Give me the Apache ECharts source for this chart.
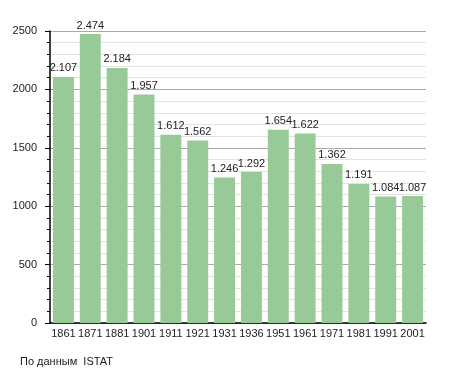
<!DOCTYPE html>
<html><head><meta charset="utf-8">
<script src="https://cdn.jsdelivr.net/npm/echarts@6/dist/echarts.min.js"></script>
<style>html,body{margin:0;padding:0;background:#fff;}#c{width:455px;height:373px;}</style>
</head><body><div id="c"></div>
<script>
const years = ['1861','1871','1881','1901','1911','1921','1931','1936','1951','1961','1971','1981','1991','2001'];
const population = [2107,2474,2184,1957,1612,1562,1246,1292,1654,1622,1362,1191,1084,1087];
const yTicks = [0,500,1000,1500,2000,2500];
const sourceText = 'По данным  ISTAT';

const chart = echarts.init(document.getElementById('c'), null, {renderer:'canvas'});
const fmt = v => { const s = String(v); return s.length > 3 ? s.slice(0, s.length-3) + '.' + s.slice(-3) : s; };
chart.setOption({
  animation:false,
  backgroundColor:'#fff',
  textStyle:{fontFamily:'Liberation Sans, Arial, sans-serif'},
  grid:{left:50,right:29,top:31,bottom:50,containLabel:false},
  graphic:[{type:'text',left:20,top:356,style:{text:sourceText,font:'11px Liberation Sans, Arial, sans-serif',fill:'#222'}}],
  xAxis:{type:'category',data:years,
    axisLine:{lineStyle:{color:'#000',width:1.5}},
    axisTick:{show:false},
    axisLabel:{color:'#222',fontSize:11,margin:5,interval:0}},
  yAxis:{type:'value',min:yTicks[0],max:yTicks[yTicks.length-1],interval:500,
    axisLine:{show:true,lineStyle:{color:'#000',width:1.5}},
    axisTick:{show:true,length:5,lineStyle:{color:'#000'}},
    minorTick:{show:true,splitNumber:5,length:3,lineStyle:{color:'#000'}},
    splitLine:{lineStyle:{color:'#aaa'}},
    minorSplitLine:{show:true,lineStyle:{color:'#e2e2e2'}},
    axisLabel:{color:'#222',fontSize:11,margin:13,formatter:v=>String(v)}},
  series:[{type:'bar',data:population,barCategoryGap:'22%',
    itemStyle:{color:'#98ca98'},
    label:{show:true,position:'top',distance:3,color:'#222',fontSize:11,formatter:p=>fmt(p.value)}}]
});
</script></body></html>
